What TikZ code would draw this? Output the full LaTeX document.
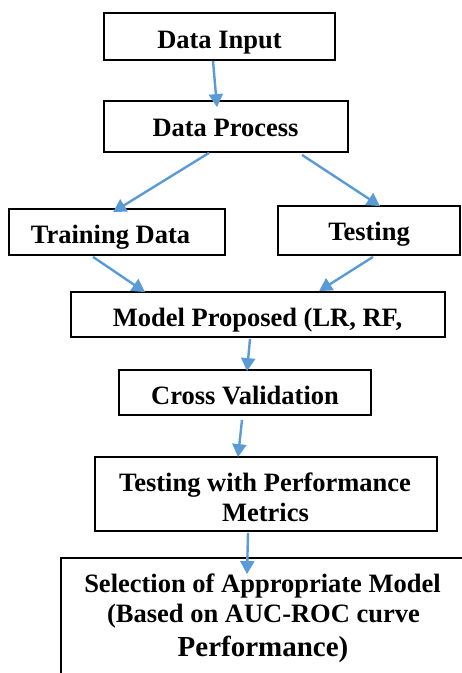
\documentclass[tikz,border=0pt]{standalone}
\usepackage{fontspec}
\setmainfont{Liberation Serif}
\usetikzlibrary{arrows.meta,calc}
\definecolor{arrowblue}{RGB}{91,155,213}
\begin{document}
\begin{tikzpicture}[x=1pt,y=-1pt,
  box/.style={draw=black, line width=1.8pt, rectangle, inner sep=0pt},
  lbl/.style={anchor=base, inner sep=0pt, font=\fontsize{26.5}{30}\selectfont\bfseries},
  biglbl/.style={lbl, font=\fontsize{29}{32}\selectfont\bfseries},
  flow/.style={draw=arrowblue, line width=2.4pt, -{Triangle[length=13pt,width=14pt]}}]
\useasboundingbox (0,0) rectangle (462,673);
\clip (0,0) rectangle (462,673);

% boxes
\node[box, minimum width=231pt, minimum height=47pt] (b1) at (219.5,36.5) {};
\node[box, minimum width=244pt, minimum height=51pt] (b2) at (226,126.5) {};
\node[box, minimum width=216pt, minimum height=46pt] (b3) at (117,232) {};
\node[box, minimum width=182pt, minimum height=49pt] (b4) at (369,230.5) {};
\node[box, minimum width=374pt, minimum height=45pt] (b5) at (258,314.5) {};
\node[box, minimum width=252pt, minimum height=45pt] (b6) at (245,392.5) {};
\node[box, minimum width=342pt, minimum height=74pt] (b7) at (266,494) {};
% the last box runs off the right and bottom edges
\node[box, minimum width=418pt, minimum height=132pt] (b8) at (270,624) {};

% labels
\node[lbl] (t1) at (219.5,48.3) {Data Input};
\node[lbl] (t2) at (225.5,136.7) {Data Process};
\node[lbl] (t3) at (110.5,243) {Training Data};
\node[lbl] (t4) at (369,240) {Testing};
\node[lbl] (t5) at (257.5,326.7) {Model Proposed (LR, RF,};
\node[lbl] (t6) at (245,404) {Cross Validation};
\node[lbl] (t7a) at (265,491) {Testing with Performance};
\node[lbl] (t7b) at (265.5,521.7) {Metrics};
\node[lbl] (t8a) at (262.5,592.3) {Selection of Appropriate Model};
\node[lbl] (t8b) at (263.5,622.3) {(Based on AUC-ROC curve};
\node[biglbl] (t8c) at (263,656) {Performance)};

% connectors
\draw[flow] ($(b1.south)+(-6.5,0)$) -- ($(b2.north)+(-9,7)$);
\draw[flow] ($(b2.south)+(-17,0)$) -- ($(b3.north)+(-4,4)$);
\draw[flow] ($(b2.south)+(76,2)$) -- ($(b4.north)+(11,1)$);
\draw[flow] ($(b3.south)+(-24,1)$) -- ($(b5.north)+(-113,1)$);
\draw[flow] ($(b4.south)+(4,1)$) -- ($(b5.north)+(61,0)$);
\draw[flow] ($(b5.south)+(-8,1)$) -- ($(b6.north)+(2,2)$);
\draw[flow] ($(b6.south)+(-3,4)$) -- ($(b7.north)+(-28,1)$);
\draw[flow] ($(b7.south)+(-18,1)$) -- ($(b8.north)+(-23,17)$);
\end{tikzpicture}
\end{document}
